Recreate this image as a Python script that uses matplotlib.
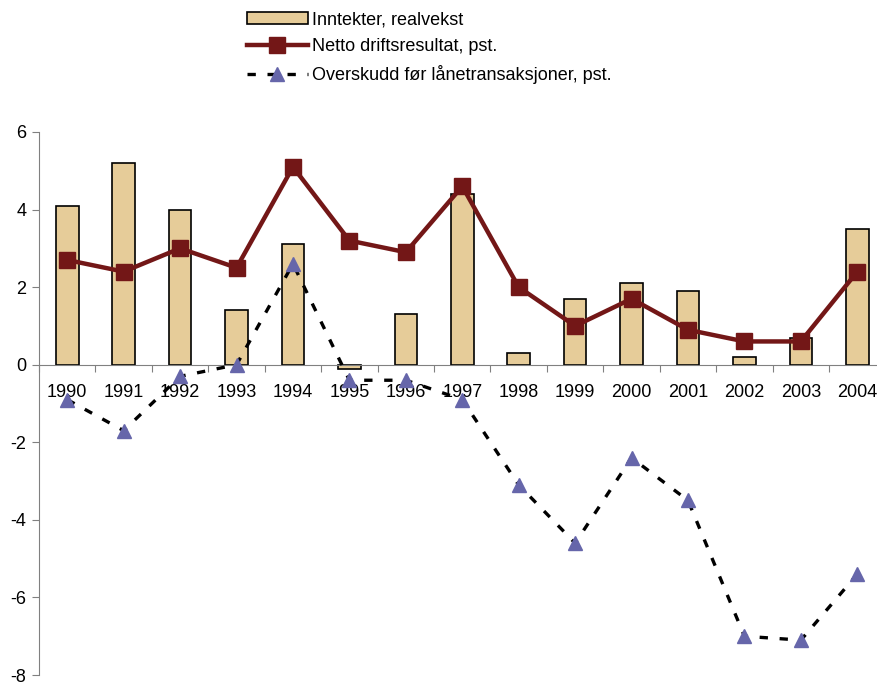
import numpy as np
import matplotlib
matplotlib.use("Agg")
import matplotlib.pyplot as plt

plt.rcParams['font.family'] = ['Liberation Sans', 'DejaVu Sans']

years = ['1990', '1991', '1992', '1993', '1994', '1995', '1996', '1997',
         '1998', '1999', '2000', '2001', '2002', '2003', '2004']
inntekter = [4.1, 5.2, 4.0, 1.4, 3.1, -0.1, 1.3, 4.4, 0.3, 1.7, 2.1, 1.9, 0.2, 0.7, 3.5]
netto = [2.7, 2.4, 3.0, 2.5, 5.1, 3.2, 2.9, 4.6, 2.0, 1.0, 1.7, 0.9, 0.6, 0.6, 2.4]
overskudd = [-0.9, -1.7, -0.3, 0.0, 2.6, -0.4, -0.4, -0.9, -3.1, -4.6, -2.4, -3.5, -7.0, -7.1, -5.4]

bar_color = '#e6cc99'
line_color = '#731717'
tri_color = '#6666aa'

fig = plt.figure(figsize=(8.77, 6.86), dpi=100)
ax = fig.add_axes([0.0445, 0.016, 0.962, 0.7916])

x = np.arange(len(years))

# bars
bars = ax.bar(x, inntekter, width=0.4, color=bar_color, edgecolor='black',
              linewidth=1.2, zorder=2)

# netto driftsresultat
l_netto, = ax.plot(x, netto, color=line_color, linewidth=3.2, marker='s',
                   markersize=11, zorder=4)

# overskudd foer laanetransaksjoner
l_over, = ax.plot(x, overskudd, color='black', linewidth=2.4,
                  linestyle=(0, (2.5, 3.5)), marker='^', markersize=10,
                  markerfacecolor=tri_color, markeredgecolor=tri_color, zorder=3)

ax.set_xlim(-0.5, 14.45)
ax.set_ylim(-8, 6)
ax.set_yticks([-8, -6, -4, -2, 0, 2, 4, 6])
ax.set_yticklabels(['-8', '-6', '-4', '-2', '0', '2', '4', '6'], fontsize=13)

# x axis sits on zero line, ticks between categories
ax.spines['bottom'].set_position(('data', 0))
ax.spines['top'].set_visible(False)
ax.spines['right'].set_visible(False)
ax.spines['left'].set_color('#808080')
ax.spines['bottom'].set_color('#808080')
ax.set_xticks(np.arange(-0.5, 14.5, 1.0))
ax.set_xticklabels([])
ax.tick_params(axis='x', which='major', direction='out', length=5, color='#808080')
ax.set_xticks(x, minor=True)
ax.set_xticklabels(years, minor=True, fontsize=13)
ax.tick_params(axis='x', which='minor', length=0, pad=14)
ax.tick_params(axis='y', direction='out', length=5, color='#808080', pad=4)

fig.legend([bars, l_netto, l_over],
           ['Inntekter, realvekst', 'Netto driftsresultat, pst.',
            'Overskudd før lånetransaksjoner, pst.'],
           loc='upper left', bbox_to_anchor=(0.273, 0.994),
           frameon=False, fontsize=13, handlelength=3.4, handletextpad=0.2,
           labelspacing=0.55, borderaxespad=0)

fig.savefig('out.png', dpi=100)
